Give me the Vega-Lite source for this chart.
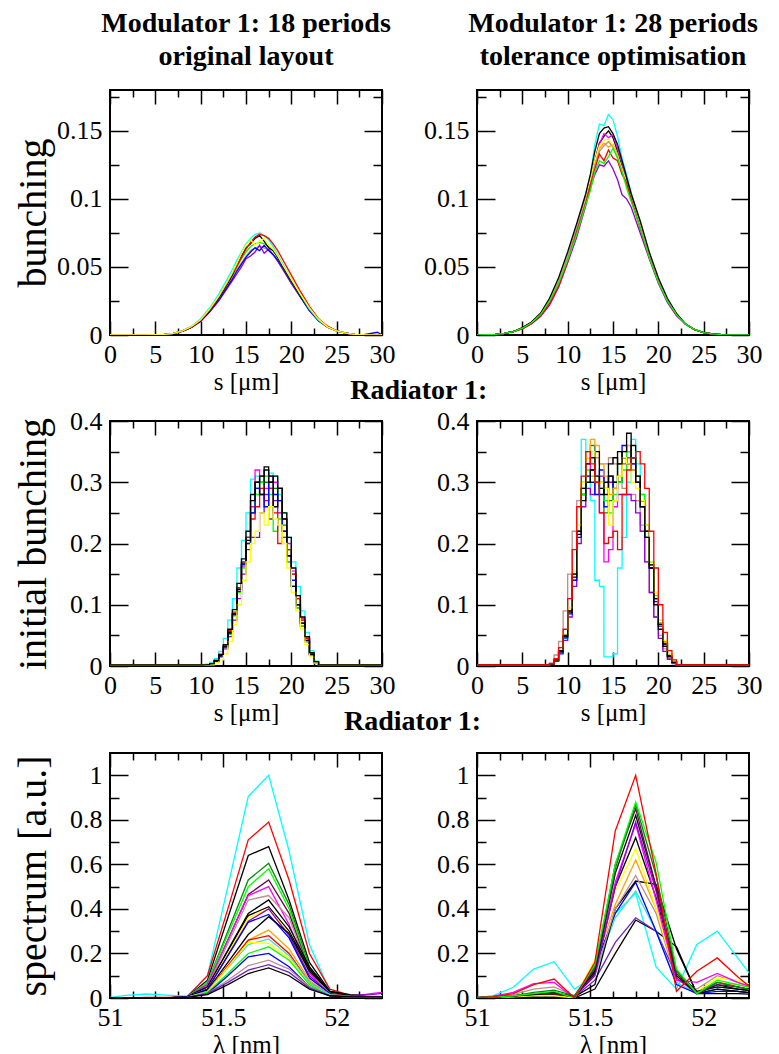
{
"background":"white",
"padding":{"left":12,"top":9,"right":5,"bottom":5},
"config":{
"view":{"stroke":"black","strokeWidth":2},
"axis":{"domain":false,"grid":false,"labelFont":"Liberation Serif","labelFontSize":26,"labelColor":"#000","titleFont":"Liberation Serif","titleFontWeight":"normal","titleColor":"#000","tickColor":"#000","tickWidth":1.5,"labelFlush":false,"labelOverlap":false},
"title":{"font":"Liberation Serif","fontSize":28,"fontWeight":"bold","color":"#000"}
},
"spacing":-18,
"vconcat":[
{"spacing":26,"hconcat":[
{"width":272,"height":245,
"title":{"text":["Modulator 1: 18 periods","original layout"],"anchor":"middle","frame":"group","offset":18,"lineHeight":33},
"resolve":{"axis":{"x":"independent","y":"independent"}},
"layer":[
{"data":{"values":[
{"x":0,"c":0,"r":0,"k":0,"y":0,"g":0,"b":0,"v":0,"br":0},
{"x":4,"c":0.0001,"r":0.0001,"k":0.0001,"y":0.0001,"g":0.0001,"b":0.0001,"v":0.0001,"br":0.0001},
{"x":6,"c":0.0005,"r":0.0005,"k":0.0005,"y":0.0005,"g":0.0005,"b":0.0005,"v":0.0005,"br":0.0005},
{"x":7,"c":0.0012,"r":0.0012,"k":0.0012,"y":0.0012,"g":0.0012,"b":0.0012,"v":0.0012,"br":0.0012},
{"x":8,"c":0.0032,"r":0.003,"k":0.0028,"y":0.003,"g":0.003,"b":0.0028,"v":0.0027,"br":0.0029},
{"x":9,"c":0.0065,"r":0.006,"k":0.0058,"y":0.0062,"g":0.006,"b":0.0057,"v":0.0055,"br":0.0058},
{"x":10,"c":0.012,"r":0.011,"k":0.0105,"y":0.0112,"g":0.011,"b":0.0105,"v":0.01,"br":0.0105},
{"x":11,"c":0.02,"r":0.0185,"k":0.0178,"y":0.019,"g":0.018,"b":0.0172,"v":0.017,"br":0.0175},
{"x":12,"c":0.03,"r":0.028,"k":0.027,"y":0.0285,"g":0.027,"b":0.026,"v":0.025,"br":0.026},
{"x":13,"c":0.042,"r":0.039,"k":0.038,"y":0.04,"g":0.038,"b":0.036,"v":0.035,"br":0.036},
{"x":13.5,"c":0.048,"r":0.045,"k":0.044,"y":0.046,"g":0.044,"b":0.041,"v":0.04,"br":0.042},
{"x":14,"c":0.055,"r":0.051,"k":0.051,"y":0.053,"g":0.05,"b":0.047,"v":0.045,"br":0.048},
{"x":14.5,"c":0.061,"r":0.057,"k":0.058,"y":0.06,"g":0.056,"b":0.052,"v":0.05,"br":0.053},
{"x":15,"c":0.067,"r":0.063,"k":0.064,"y":0.066,"g":0.061,"b":0.057,"v":0.056,"br":0.058},
{"x":15.5,"c":0.071,"r":0.068,"k":0.067,"y":0.07,"g":0.065,"b":0.061,"v":0.058,"br":0.062},
{"x":16,"c":0.074,"r":0.072,"k":0.071,"y":0.066,"g":0.067,"b":0.064,"v":0.061,"br":0.064},
{"x":16.5,"c":0.075,"r":0.074,"k":0.073,"y":0.069,"g":0.068,"b":0.062,"v":0.066,"br":0.065},
{"x":17,"c":0.073,"r":0.073,"k":0.069,"y":0.071,"g":0.067,"b":0.066,"v":0.06,"br":0.064},
{"x":17.5,"c":0.07,"r":0.071,"k":0.064,"y":0.066,"g":0.065,"b":0.062,"v":0.063,"br":0.062},
{"x":18,"c":0.065,"r":0.067,"k":0.062,"y":0.063,"g":0.062,"b":0.059,"v":0.059,"br":0.059},
{"x":18.5,"c":0.059,"r":0.062,"k":0.057,"y":0.058,"g":0.057,"b":0.055,"v":0.054,"br":0.055},
{"x":19,"c":0.053,"r":0.056,"k":0.051,"y":0.052,"g":0.051,"b":0.05,"v":0.049,"br":0.049},
{"x":20,"c":0.041,"r":0.044,"k":0.04,"y":0.041,"g":0.04,"b":0.039,"v":0.038,"br":0.038},
{"x":21,"c":0.03,"r":0.032,"k":0.029,"y":0.03,"g":0.029,"b":0.028,"v":0.028,"br":0.028},
{"x":22,"c":0.019,"r":0.021,"k":0.019,"y":0.02,"g":0.019,"b":0.018,"v":0.018,"br":0.018},
{"x":23,"c":0.011,"r":0.012,"k":0.011,"y":0.0115,"g":0.011,"b":0.0105,"v":0.0105,"br":0.0105},
{"x":24,"c":0.006,"r":0.0065,"k":0.006,"y":0.006,"g":0.006,"b":0.0058,"v":0.0058,"br":0.0058},
{"x":25,"c":0.003,"r":0.003,"k":0.003,"y":0.003,"g":0.003,"b":0.003,"v":0.003,"br":0.003},
{"x":26,"c":0.0013,"r":0.0013,"k":0.0013,"y":0.0013,"g":0.0013,"b":0.0013,"v":0.0013,"br":0.0013},
{"x":27,"c":0.0005,"r":0.0005,"k":0.0005,"y":0.0005,"g":0.0005,"b":0.0005,"v":0.0005,"br":0.0005},
{"x":28,"c":0.0002,"r":0.0002,"k":0.0002,"y":0.0002,"g":0.0002,"b":0.0002,"v":0.0002,"br":0.0002},
{"x":29.5,"c":0.0001,"r":0.0001,"k":0.0001,"y":0.0001,"g":0.0001,"b":0.002,"v":0.0001,"br":0.0001},
{"x":30,"c":0,"r":0,"k":0,"y":0,"g":0,"b":0,"v":0,"br":0}
]},
"transform":[{"fold":["br","v","b","g","k","c","r","y"],"as":["key","val"]}],
"mark":{"type":"line","strokeWidth":1.3,"clip":true},
"encoding":{
"x":{"field":"x","type":"quantitative","scale":{"domain":[0,30],"nice":false,"zero":false},"axis":{"orient":"bottom","values":[0,5,10,15,20,25,30],"tickSize":-14,"labelPadding":20,"format":"~g","title":"s [μm]","titleFontSize":25,"titlePadding":2}},
"y":{"field":"val","type":"quantitative","scale":{"domain":[0,0.18],"nice":false,"zero":false},"axis":{"orient":"left","values":[0,0.05,0.1,0.15],"tickSize":-18,"labelPadding":26,"format":"~g","title":"bunching","titleFontSize":40,"titlePadding":3}},
"color":{"field":"key","type":"nominal","legend":null,"scale":{"domain":["c","r","r2","k","k1","k2","k3","k4","k5","y","y2","g","g2","g4","b","b2","v","v2","v3","br","br2","m","mr","o","t"],"range":["#00ffff","#ff0000","#ff0000","#000000","#000000","#000000","#000000","#000000","#000000","#ffff00","#ffff00","#00ff00","#00ff00","#008b00","#0000ff","#0000ff","#9400d3","#7221bc","#7221bc","#bc8f8f","#bc8f8f","#ff00ff","#670748","#ffa500","#40e0d0"]}}
}},
{"data":{"values":[{"x":15,"val":0.05}]},"mark":{"type":"point","opacity":0},
"encoding":{"x":{"field":"x","type":"quantitative","axis":{"orient":"top","values":[0,5,10,15,20,25,30],"tickSize":-14,"labels":false,"title":null}},"y":{"field":"val","type":"quantitative","axis":{"orient":"right","values":[0,0.05,0.1,0.15],"tickSize":-18,"labels":false,"title":null}}}},
{"data":{"values":[{"x":15,"val":0.05}]},"mark":{"type":"point","opacity":0},
"encoding":{"x":{"field":"x","type":"quantitative","axis":{"orient":"bottom","values":[2.5,7.5,12.5,17.5,22.5,27.5],"tickSize":-7,"labels":false,"title":null}},"y":{"field":"val","type":"quantitative","axis":{"orient":"left","values":[0.025,0.075,0.125,0.175],"tickSize":-9,"labels":false,"title":null}}}},
{"data":{"values":[{"x":15,"val":0.05}]},"mark":{"type":"point","opacity":0},
"encoding":{"x":{"field":"x","type":"quantitative","axis":{"orient":"top","values":[2.5,7.5,12.5,17.5,22.5,27.5],"tickSize":-7,"labels":false,"title":null}},"y":{"field":"val","type":"quantitative","axis":{"orient":"right","values":[0.025,0.075,0.125,0.175],"tickSize":-9,"labels":false,"title":null}}}}
]},
{"width":272,"height":245,
"title":{"text":["Modulator 1: 28 periods","tolerance optimisation"],"anchor":"middle","frame":"group","offset":18,"lineHeight":33},
"resolve":{"axis":{"x":"independent","y":"independent"}},
"layer":[
{"data":{"values":[
{"x":0,"c":0,"k":0,"k2":0,"m":0,"r":0,"v":0,"o":0,"y":0,"br":0,"g":0},
{"x":2,"c":0.0005,"k":0.0005,"k2":0.0005,"m":0.0005,"r":0.0005,"v":0.0005,"o":0.0005,"y":0.0005,"br":0.0005,"g":0.0005},
{"x":3,"c":0.0012,"k":0.0012,"k2":0.0012,"m":0.0012,"r":0.0012,"v":0.0012,"o":0.0012,"y":0.0012,"br":0.0012,"g":0.0012},
{"x":4,"c":0.0025,"k":0.0025,"k2":0.0025,"m":0.0025,"r":0.0025,"v":0.0025,"o":0.0025,"y":0.0025,"br":0.0025,"g":0.0025},
{"x":5,"c":0.005,"k":0.0055,"k2":0.005,"m":0.005,"r":0.0045,"v":0.0045,"o":0.005,"y":0.005,"br":0.005,"g":0.005},
{"x":6,"c":0.009,"k":0.0095,"k2":0.009,"m":0.009,"r":0.0085,"v":0.0082,"o":0.009,"y":0.009,"br":0.009,"g":0.009},
{"x":7,"c":0.015,"k":0.016,"k2":0.015,"m":0.015,"r":0.014,"v":0.0135,"o":0.015,"y":0.015,"br":0.015,"g":0.015},
{"x":8,"c":0.025,"k":0.027,"k2":0.025,"m":0.025,"r":0.023,"v":0.022,"o":0.025,"y":0.025,"br":0.025,"g":0.025},
{"x":9,"c":0.039,"k":0.042,"k2":0.039,"m":0.039,"r":0.036,"v":0.035,"o":0.039,"y":0.039,"br":0.039,"g":0.038},
{"x":10,"c":0.058,"k":0.061,"k2":0.057,"m":0.057,"r":0.054,"v":0.053,"o":0.057,"y":0.057,"br":0.057,"g":0.055},
{"x":11,"c":0.08,"k":0.082,"k2":0.078,"m":0.078,"r":0.076,"v":0.072,"o":0.078,"y":0.078,"br":0.078,"g":0.074},
{"x":12,"c":0.103,"k":0.104,"k2":0.101,"m":0.1,"r":0.097,"v":0.095,"o":0.099,"y":0.1,"br":0.099,"g":0.096},
{"x":12.5,"c":0.117,"k":0.118,"k2":0.113,"m":0.112,"r":0.11,"v":0.108,"o":0.112,"y":0.114,"br":0.111,"g":0.106},
{"x":13,"c":0.14,"k":0.135,"k2":0.128,"m":0.126,"r":0.122,"v":0.118,"o":0.126,"y":0.128,"br":0.125,"g":0.12},
{"x":13.5,"c":0.155,"k":0.148,"k2":0.141,"m":0.14,"r":0.133,"v":0.125,"o":0.137,"y":0.139,"br":0.135,"g":0.128},
{"x":14,"c":0.154,"k":0.152,"k2":0.146,"m":0.148,"r":0.128,"v":0.124,"o":0.141,"y":0.143,"br":0.139,"g":0.126},
{"x":14.5,"c":0.162,"k":0.153,"k2":0.15,"m":0.145,"r":0.136,"v":0.128,"o":0.138,"y":0.144,"br":0.142,"g":0.131},
{"x":15,"c":0.158,"k":0.148,"k2":0.145,"m":0.147,"r":0.13,"v":0.122,"o":0.14,"y":0.139,"br":0.138,"g":0.137},
{"x":15.5,"c":0.146,"k":0.14,"k2":0.135,"m":0.137,"r":0.128,"v":0.114,"o":0.133,"y":0.131,"br":0.13,"g":0.13},
{"x":16,"c":0.13,"k":0.128,"k2":0.124,"m":0.126,"r":0.118,"v":0.103,"o":0.121,"y":0.122,"br":0.12,"g":0.12},
{"x":16.5,"c":0.118,"k":0.116,"k2":0.114,"m":0.112,"r":0.112,"v":0.1,"o":0.11,"y":0.112,"br":0.11,"g":0.108},
{"x":17,"c":0.105,"k":0.104,"k2":0.102,"m":0.1,"r":0.1,"v":0.094,"o":0.1,"y":0.101,"br":0.1,"g":0.098},
{"x":18,"c":0.082,"k":0.084,"k2":0.081,"m":0.08,"r":0.078,"v":0.075,"o":0.08,"y":0.08,"br":0.08,"g":0.079},
{"x":19,"c":0.059,"k":0.061,"k2":0.059,"m":0.058,"r":0.057,"v":0.056,"o":0.058,"y":0.058,"br":0.058,"g":0.057},
{"x":20,"c":0.04,"k":0.042,"k2":0.04,"m":0.04,"r":0.039,"v":0.038,"o":0.04,"y":0.04,"br":0.04,"g":0.039},
{"x":21,"c":0.025,"k":0.027,"k2":0.025,"m":0.025,"r":0.025,"v":0.024,"o":0.025,"y":0.025,"br":0.025,"g":0.025},
{"x":22,"c":0.015,"k":0.016,"k2":0.015,"m":0.015,"r":0.015,"v":0.014,"o":0.015,"y":0.015,"br":0.015,"g":0.015},
{"x":23,"c":0.008,"k":0.008,"k2":0.008,"m":0.008,"r":0.008,"v":0.008,"o":0.008,"y":0.008,"br":0.008,"g":0.008},
{"x":24,"c":0.004,"k":0.004,"k2":0.004,"m":0.004,"r":0.004,"v":0.004,"o":0.004,"y":0.004,"br":0.004,"g":0.004},
{"x":25,"c":0.0018,"k":0.0018,"k2":0.0018,"m":0.0018,"r":0.0018,"v":0.0018,"o":0.0018,"y":0.0018,"br":0.0018,"g":0.0018},
{"x":26,"c":0.0008,"k":0.0008,"k2":0.0008,"m":0.0008,"r":0.0008,"v":0.0008,"o":0.0008,"y":0.0008,"br":0.0008,"g":0.0008},
{"x":27,"c":0.0003,"k":0.0003,"k2":0.0003,"m":0.0003,"r":0.0003,"v":0.0003,"o":0.0003,"y":0.0003,"br":0.0003,"g":0.0003},
{"x":28,"c":0.0001,"k":0.0001,"k2":0.0001,"m":0.0001,"r":0.0001,"v":0.0001,"o":0.0001,"y":0.0001,"br":0.0001,"g":0.0001},
{"x":30,"c":0,"k":0,"k2":0,"m":0,"r":0,"v":0,"o":0,"y":0,"br":0,"g":0}
]},
"transform":[{"fold":["c","k2","m","o","y","br","v","r","k","g"],"as":["key","val"]}],
"mark":{"type":"line","strokeWidth":1.3,"clip":true},
"encoding":{
"x":{"field":"x","type":"quantitative","scale":{"domain":[0,30],"nice":false,"zero":false},"axis":{"orient":"bottom","values":[0,5,10,15,20,25,30],"tickSize":-14,"labelPadding":20,"format":"~g","title":"s [μm]","titleFontSize":25,"titlePadding":2}},
"y":{"field":"val","type":"quantitative","scale":{"domain":[0,0.18],"nice":false,"zero":false},"axis":{"orient":"left","values":[0,0.05,0.1,0.15],"tickSize":-18,"labelPadding":26,"format":"~g","title":null}},
"color":{"field":"key","type":"nominal","legend":null,"scale":{"domain":["c","r","r2","k","k1","k2","k3","k4","k5","y","y2","g","g2","g4","b","b2","v","v2","v3","br","br2","m","mr","o","t"],"range":["#00ffff","#ff0000","#ff0000","#000000","#000000","#000000","#000000","#000000","#000000","#ffff00","#ffff00","#00ff00","#00ff00","#008b00","#0000ff","#0000ff","#9400d3","#7221bc","#7221bc","#bc8f8f","#bc8f8f","#ff00ff","#670748","#ffa500","#40e0d0"]}}
}},
{"data":{"values":[{"x":15,"val":0.05}]},"mark":{"type":"point","opacity":0},
"encoding":{"x":{"field":"x","type":"quantitative","axis":{"orient":"top","values":[0,5,10,15,20,25,30],"tickSize":-14,"labels":false,"title":null}},"y":{"field":"val","type":"quantitative","axis":{"orient":"right","values":[0,0.05,0.1,0.15],"tickSize":-18,"labels":false,"title":null}}}},
{"data":{"values":[{"x":15,"val":0.05}]},"mark":{"type":"point","opacity":0},
"encoding":{"x":{"field":"x","type":"quantitative","axis":{"orient":"bottom","values":[2.5,7.5,12.5,17.5,22.5,27.5],"tickSize":-7,"labels":false,"title":null}},"y":{"field":"val","type":"quantitative","axis":{"orient":"left","values":[0.025,0.075,0.125,0.175],"tickSize":-9,"labels":false,"title":null}}}},
{"data":{"values":[{"x":15,"val":0.05}]},"mark":{"type":"point","opacity":0},
"encoding":{"x":{"field":"x","type":"quantitative","axis":{"orient":"top","values":[2.5,7.5,12.5,17.5,22.5,27.5],"tickSize":-7,"labels":false,"title":null}},"y":{"field":"val","type":"quantitative","axis":{"orient":"right","values":[0.025,0.075,0.125,0.175],"tickSize":-9,"labels":false,"title":null}}}}
]}
]},
{"spacing":39,"title":{"text":"Radiator 1:","anchor":"middle","offset":2,"dx":31},"hconcat":[
{"width":272,"height":245,
"resolve":{"axis":{"x":"independent","y":"independent"}},
"layer":[
{"data":{"values":[
{"x":0,"k":0.002,"k2":0.002,"c":0.002,"m":0.002,"g":0.002,"r":0.002,"b":0.002,"y":0.002,"v":0.002,"g4":0.002},
{"x":10,"k":0.002,"k2":0.002,"c":0.002,"m":0.002,"g":0.002,"r":0.002,"b":0.002,"y":0.002,"v":0.002,"g4":0.002},
{"x":10.5,"k":0.002,"k2":0.002,"c":0.003,"m":0.002,"g":0.002,"r":0.002,"b":0.002,"y":0.001,"v":0.002,"g4":0.002},
{"x":11,"k":0.004,"k2":0.003,"c":0.006,"m":0.003,"g":0.003,"r":0.004,"b":0.003,"y":0.002,"v":0.003,"g4":0.003},
{"x":11.5,"k":0.009,"k2":0.008,"c":0.012,"m":0.008,"g":0.008,"r":0.009,"b":0.008,"y":0.005,"v":0.007,"g4":0.008},
{"x":12,"k":0.019,"k2":0.017,"c":0.024,"m":0.016,"g":0.017,"r":0.019,"b":0.016,"y":0.01,"v":0.015,"g4":0.017},
{"x":12.5,"k":0.035,"k2":0.032,"c":0.045,"m":0.031,"g":0.03,"r":0.034,"b":0.031,"y":0.02,"v":0.028,"g4":0.032},
{"x":13,"k":0.06,"k2":0.055,"c":0.075,"m":0.054,"g":0.052,"r":0.058,"b":0.053,"y":0.04,"v":0.048,"g4":0.056},
{"x":13.5,"k":0.092,"k2":0.085,"c":0.11,"m":0.083,"g":0.082,"r":0.088,"b":0.084,"y":0.068,"v":0.075,"g4":0.086},
{"x":14,"k":0.135,"k2":0.125,"c":0.16,"m":0.122,"g":0.12,"r":0.128,"b":0.122,"y":0.1,"v":0.11,"g4":0.126},
{"x":14.5,"k":0.175,"k2":0.168,"c":0.205,"m":0.162,"g":0.16,"r":0.17,"b":0.165,"y":0.14,"v":0.15,"g4":0.166},
{"x":15,"k":0.22,"k2":0.205,"c":0.25,"m":0.21,"g":0.2,"r":0.21,"b":0.2,"y":0.17,"v":0.19,"g4":0.21},
{"x":15.5,"k":0.27,"k2":0.28,"c":0.305,"m":0.26,"g":0.25,"r":0.24,"b":0.25,"y":0.2,"v":0.21,"g4":0.25},
{"x":16,"k":0.3,"k2":0.3,"c":0.31,"m":0.32,"g":0.28,"r":0.26,"b":0.29,"y":0.22,"v":0.21,"g4":0.29},
{"x":16.5,"k":0.31,"k2":0.28,"c":0.3,"m":0.3,"g":0.3,"r":0.29,"b":0.28,"y":0.25,"v":0.25,"g4":0.31},
{"x":17,"k":0.325,"k2":0.32,"c":0.31,"m":0.29,"g":0.31,"r":0.27,"b":0.26,"y":0.23,"v":0.28,"g4":0.3},
{"x":17.5,"k":0.3,"k2":0.31,"c":0.315,"m":0.31,"g":0.28,"r":0.29,"b":0.3,"y":0.26,"v":0.24,"g4":0.29},
{"x":18,"k":0.31,"k2":0.26,"c":0.31,"m":0.3,"g":0.22,"r":0.25,"b":0.28,"y":0.24,"v":0.27,"g4":0.29},
{"x":18.5,"k":0.29,"k2":0.29,"c":0.28,"m":0.29,"g":0.24,"r":0.2,"b":0.27,"y":0.23,"v":0.25,"g4":0.27},
{"x":19,"k":0.25,"k2":0.24,"c":0.25,"m":0.24,"g":0.21,"r":0.21,"b":0.22,"y":0.2,"v":0.22,"g4":0.23},
{"x":19.5,"k":0.21,"k2":0.18,"c":0.21,"m":0.2,"g":0.17,"r":0.19,"b":0.18,"y":0.16,"v":0.17,"g4":0.19},
{"x":20,"k":0.16,"k2":0.13,"c":0.17,"m":0.155,"g":0.13,"r":0.15,"b":0.14,"y":0.12,"v":0.13,"g4":0.15},
{"x":20.5,"k":0.115,"k2":0.1,"c":0.13,"m":0.115,"g":0.095,"r":0.11,"b":0.1,"y":0.09,"v":0.095,"g4":0.11},
{"x":21,"k":0.08,"k2":0.07,"c":0.09,"m":0.078,"g":0.065,"r":0.075,"b":0.07,"y":0.06,"v":0.065,"g4":0.075},
{"x":21.5,"k":0.048,"k2":0.042,"c":0.055,"m":0.046,"g":0.04,"r":0.045,"b":0.042,"y":0.035,"v":0.04,"g4":0.045},
{"x":22,"k":0.022,"k2":0.019,"c":0.025,"m":0.021,"g":0.018,"r":0.02,"b":0.019,"y":0.015,"v":0.018,"g4":0.02},
{"x":22.5,"k":0.007,"k2":0.006,"c":0.008,"m":0.006,"g":0.005,"r":0.006,"b":0.006,"y":0.005,"v":0.005,"g4":0.006},
{"x":23,"k":0.002,"k2":0.002,"c":0.002,"m":0.002,"g":0.002,"r":0.002,"b":0.002,"y":0.002,"v":0.002,"g4":0.002},
{"x":30,"k":0.002,"k2":0.002,"c":0.002,"m":0.002,"g":0.002,"r":0.002,"b":0.002,"y":0.002,"v":0.002,"g4":0.002}
]},
"transform":[{"fold":["c","m","v","g4","g","r","b","k2","y","k"],"as":["key","val"]}],
"mark":{"type":"line","strokeWidth":1.3,"clip":true,"interpolate":"step-after"},
"encoding":{
"x":{"field":"x","type":"quantitative","scale":{"domain":[0,30],"nice":false,"zero":false},"axis":{"orient":"bottom","values":[0,5,10,15,20,25,30],"tickSize":-14,"labelPadding":20,"format":"~g","title":"s [μm]","titleFontSize":25,"titlePadding":2}},
"y":{"field":"val","type":"quantitative","scale":{"domain":[0,0.4],"nice":false,"zero":false},"axis":{"orient":"left","values":[0,0.1,0.2,0.3,0.4],"tickSize":-18,"labelPadding":26,"format":"~g","title":"initial bunching","titleFontSize":40,"titlePadding":16}},
"color":{"field":"key","type":"nominal","legend":null,"scale":{"domain":["c","r","r2","k","k1","k2","k3","k4","k5","y","y2","g","g2","g4","b","b2","v","v2","v3","br","br2","m","mr","o","t"],"range":["#00ffff","#ff0000","#ff0000","#000000","#000000","#000000","#000000","#000000","#000000","#ffff00","#ffff00","#00ff00","#00ff00","#008b00","#0000ff","#0000ff","#9400d3","#7221bc","#7221bc","#bc8f8f","#bc8f8f","#ff00ff","#670748","#ffa500","#40e0d0"]}}
}},
{"data":{"values":[{"x":15,"val":0.1}]},"mark":{"type":"point","opacity":0},
"encoding":{"x":{"field":"x","type":"quantitative","axis":{"orient":"top","values":[0,5,10,15,20,25,30],"tickSize":-14,"labels":false,"title":null}},"y":{"field":"val","type":"quantitative","axis":{"orient":"right","values":[0,0.1,0.2,0.3,0.4],"tickSize":-18,"labels":false,"title":null}}}},
{"data":{"values":[{"x":15,"val":0.1}]},"mark":{"type":"point","opacity":0},
"encoding":{"x":{"field":"x","type":"quantitative","axis":{"orient":"bottom","values":[2.5,7.5,12.5,17.5,22.5,27.5],"tickSize":-7,"labels":false,"title":null}},"y":{"field":"val","type":"quantitative","axis":{"orient":"left","values":[0.05,0.15,0.25,0.35],"tickSize":-9,"labels":false,"title":null}}}},
{"data":{"values":[{"x":15,"val":0.1}]},"mark":{"type":"point","opacity":0},
"encoding":{"x":{"field":"x","type":"quantitative","axis":{"orient":"top","values":[2.5,7.5,12.5,17.5,22.5,27.5],"tickSize":-7,"labels":false,"title":null}},"y":{"field":"val","type":"quantitative","axis":{"orient":"right","values":[0.05,0.15,0.25,0.35],"tickSize":-9,"labels":false,"title":null}}}}
]},
{"width":272,"height":245,
"resolve":{"axis":{"x":"independent","y":"independent"}},
"layer":[
{"data":{"values":[
{"x":0,"c":0.002,"r":0.002,"m":0.002,"k":0.002,"k2":0.002,"g":0.002,"g4":0.002,"b":0.002,"y":0.002,"o":0.002,"br":0.002,"v":0.002},
{"x":7.5,"c":0.002,"r":0.002,"m":0.002,"k":0.002,"k2":0.002,"g":0.002,"g4":0.002,"b":0.002,"y":0.002,"o":0.002,"br":0.002,"v":0.002},
{"x":8,"c":0.003,"r":0.004,"m":0.003,"k":0.003,"k2":0.003,"g":0.003,"g4":0.003,"b":0.003,"y":0.003,"o":0.003,"br":0.005,"v":0.003},
{"x":8.5,"c":0.008,"r":0.012,"m":0.01,"k":0.01,"k2":0.009,"g":0.01,"g4":0.01,"b":0.009,"y":0.01,"o":0.01,"br":0.018,"v":0.008},
{"x":9,"c":0.02,"r":0.03,"m":0.025,"k":0.025,"k2":0.023,"g":0.025,"g4":0.025,"b":0.023,"y":0.026,"o":0.025,"br":0.04,"v":0.02},
{"x":9.5,"c":0.045,"r":0.06,"m":0.05,"k":0.05,"k2":0.048,"g":0.05,"g4":0.05,"b":0.046,"y":0.052,"o":0.05,"br":0.09,"v":0.042},
{"x":10,"c":0.085,"r":0.11,"m":0.09,"k":0.09,"k2":0.088,"g":0.09,"g4":0.09,"b":0.085,"y":0.095,"o":0.09,"br":0.15,"v":0.08},
{"x":10.5,"c":0.14,"r":0.19,"m":0.15,"k":0.15,"k2":0.145,"g":0.15,"g4":0.15,"b":0.14,"y":0.155,"o":0.15,"br":0.22,"v":0.13},
{"x":11,"c":0.22,"r":0.26,"m":0.22,"k":0.22,"k2":0.215,"g":0.22,"g4":0.22,"b":0.21,"y":0.23,"o":0.22,"br":0.27,"v":0.2},
{"x":11.5,"c":0.37,"r":0.31,"m":0.28,"k":0.29,"k2":0.27,"g":0.28,"g4":0.29,"b":0.28,"y":0.3,"o":0.3,"br":0.3,"v":0.26},
{"x":12,"c":0.35,"r":0.35,"m":0.33,"k":0.33,"k2":0.3,"g":0.32,"g4":0.34,"b":0.31,"y":0.34,"o":0.35,"br":0.31,"v":0.29},
{"x":12.5,"c":0.27,"r":0.33,"m":0.32,"k":0.34,"k2":0.32,"g":0.31,"g4":0.36,"b":0.3,"y":0.35,"o":0.37,"br":0.32,"v":0.28},
{"x":13,"c":0.14,"r":0.3,"m":0.3,"k":0.31,"k2":0.35,"g":0.3,"g4":0.31,"b":0.28,"y":0.31,"o":0.36,"br":0.34,"v":0.3},
{"x":13.5,"c":0.13,"r":0.25,"m":0.25,"k":0.28,"k2":0.29,"g":0.29,"g4":0.3,"b":0.32,"y":0.3,"o":0.33,"br":0.33,"v":0.31},
{"x":14,"c":0.015,"r":0.2,"m":0.17,"k":0.3,"k2":0.28,"g":0.27,"g4":0.25,"b":0.26,"y":0.29,"o":0.31,"br":0.33,"v":0.29},
{"x":14.5,"c":0.015,"r":0.21,"m":0.19,"k":0.33,"k2":0.31,"g":0.25,"g4":0.27,"b":0.31,"y":0.23,"o":0.28,"br":0.34,"v":0.3},
{"x":15,"c":0.02,"r":0.22,"m":0.26,"k":0.34,"k2":0.3,"g":0.28,"g4":0.3,"b":0.29,"y":0.27,"o":0.29,"br":0.33,"v":0.27},
{"x":15.5,"c":0.16,"r":0.19,"m":0.3,"k":0.33,"k2":0.35,"g":0.3,"g4":0.33,"b":0.3,"y":0.31,"o":0.31,"br":0.3,"v":0.28},
{"x":16,"c":0.21,"r":0.28,"m":0.33,"k":0.35,"k2":0.34,"g":0.32,"g4":0.34,"b":0.36,"y":0.34,"o":0.35,"br":0.29,"v":0.28},
{"x":16.5,"c":0.3,"r":0.32,"m":0.34,"k":0.38,"k2":0.33,"g":0.35,"g4":0.33,"b":0.35,"y":0.33,"o":0.36,"br":0.28,"v":0.28},
{"x":17,"c":0.37,"r":0.34,"m":0.33,"k":0.34,"k2":0.36,"g":0.34,"g4":0.32,"b":0.33,"y":0.3,"o":0.32,"br":0.28,"v":0.27},
{"x":17.5,"c":0.33,"r":0.35,"m":0.31,"k":0.3,"k2":0.31,"g":0.31,"g4":0.3,"b":0.3,"y":0.29,"o":0.3,"br":0.27,"v":0.25},
{"x":18,"c":0.28,"r":0.33,"m":0.27,"k":0.26,"k2":0.27,"g":0.28,"g4":0.27,"b":0.26,"y":0.27,"o":0.27,"br":0.23,"v":0.22},
{"x":18.5,"c":0.23,"r":0.29,"m":0.22,"k":0.21,"k2":0.22,"g":0.23,"g4":0.22,"b":0.21,"y":0.23,"o":0.22,"br":0.17,"v":0.17},
{"x":19,"c":0.17,"r":0.22,"m":0.16,"k":0.16,"k2":0.165,"g":0.17,"g4":0.165,"b":0.16,"y":0.17,"o":0.165,"br":0.12,"v":0.12},
{"x":19.5,"c":0.12,"r":0.16,"m":0.11,"k":0.1,"k2":0.11,"g":0.115,"g4":0.11,"b":0.105,"y":0.12,"o":0.11,"br":0.08,"v":0.08},
{"x":20,"c":0.075,"r":0.1,"m":0.07,"k":0.06,"k2":0.068,"g":0.07,"g4":0.068,"b":0.065,"y":0.075,"o":0.07,"br":0.05,"v":0.045},
{"x":20.5,"c":0.04,"r":0.055,"m":0.038,"k":0.032,"k2":0.036,"g":0.04,"g4":0.038,"b":0.035,"y":0.042,"o":0.038,"br":0.028,"v":0.024},
{"x":21,"c":0.02,"r":0.025,"m":0.018,"k":0.015,"k2":0.017,"g":0.018,"g4":0.018,"b":0.016,"y":0.02,"o":0.018,"br":0.012,"v":0.011},
{"x":21.5,"c":0.008,"r":0.01,"m":0.007,"k":0.006,"k2":0.007,"g":0.007,"g4":0.007,"b":0.006,"y":0.008,"o":0.007,"br":0.005,"v":0.004},
{"x":22,"c":0.002,"r":0.002,"m":0.002,"k":0.002,"k2":0.002,"g":0.002,"g4":0.002,"b":0.002,"y":0.002,"o":0.002,"br":0.002,"v":0.002},
{"x":30,"c":0.002,"r":0.002,"m":0.002,"k":0.002,"k2":0.002,"g":0.002,"g4":0.002,"b":0.002,"y":0.002,"o":0.002,"br":0.002,"v":0.002}
]},
"transform":[{"fold":["c","br","v","m","g4","b","g","o","k2","y","k","r"],"as":["key","val"]}],
"mark":{"type":"line","strokeWidth":1.3,"clip":true,"interpolate":"step-after"},
"encoding":{
"x":{"field":"x","type":"quantitative","scale":{"domain":[0,30],"nice":false,"zero":false},"axis":{"orient":"bottom","values":[0,5,10,15,20,25,30],"tickSize":-14,"labelPadding":20,"format":"~g","title":"s [μm]","titleFontSize":25,"titlePadding":2}},
"y":{"field":"val","type":"quantitative","scale":{"domain":[0,0.4],"nice":false,"zero":false},"axis":{"orient":"left","values":[0,0.1,0.2,0.3,0.4],"tickSize":-18,"labelPadding":26,"format":"~g","title":null}},
"color":{"field":"key","type":"nominal","legend":null,"scale":{"domain":["c","r","r2","k","k1","k2","k3","k4","k5","y","y2","g","g2","g4","b","b2","v","v2","v3","br","br2","m","mr","o","t"],"range":["#00ffff","#ff0000","#ff0000","#000000","#000000","#000000","#000000","#000000","#000000","#ffff00","#ffff00","#00ff00","#00ff00","#008b00","#0000ff","#0000ff","#9400d3","#7221bc","#7221bc","#bc8f8f","#bc8f8f","#ff00ff","#670748","#ffa500","#40e0d0"]}}
}},
{"data":{"values":[{"x":15,"val":0.1}]},"mark":{"type":"point","opacity":0},
"encoding":{"x":{"field":"x","type":"quantitative","axis":{"orient":"top","values":[0,5,10,15,20,25,30],"tickSize":-14,"labels":false,"title":null}},"y":{"field":"val","type":"quantitative","axis":{"orient":"right","values":[0,0.1,0.2,0.3,0.4],"tickSize":-18,"labels":false,"title":null}}}},
{"data":{"values":[{"x":15,"val":0.1}]},"mark":{"type":"point","opacity":0},
"encoding":{"x":{"field":"x","type":"quantitative","axis":{"orient":"bottom","values":[2.5,7.5,12.5,17.5,22.5,27.5],"tickSize":-7,"labels":false,"title":null}},"y":{"field":"val","type":"quantitative","axis":{"orient":"left","values":[0.05,0.15,0.25,0.35],"tickSize":-9,"labels":false,"title":null}}}},
{"data":{"values":[{"x":15,"val":0.1}]},"mark":{"type":"point","opacity":0},
"encoding":{"x":{"field":"x","type":"quantitative","axis":{"orient":"top","values":[2.5,7.5,12.5,17.5,22.5,27.5],"tickSize":-7,"labels":false,"title":null}},"y":{"field":"val","type":"quantitative","axis":{"orient":"right","values":[0.05,0.15,0.25,0.35],"tickSize":-9,"labels":false,"title":null}}}}
]}
]},
{"spacing":51,"title":{"text":"Radiator 1:","anchor":"middle","offset":15,"dx":31},"hconcat":[
{"width":272,"height":245,
"resolve":{"axis":{"x":"independent","y":"independent"}},
"layer":[
{"data":{"values":[
{"x":50.98,"c":0,"r":0,"k1":0,"g4":0,"g":0,"mr":0,"m":0,"br":0,"k2":0,"k3":0,"y":0,"v":0,"b":0,"k4":0,"o":0,"r2":0,"t":0,"y2":0,"g2":0,"b2":0,"br2":0,"v2":0,"k5":0},
{"x":51.07,"c":0.012,"r":0,"k1":0,"g4":0,"g":0,"mr":0,"m":0,"br":0,"k2":0,"k3":0,"y":0,"v":0,"b":0,"k4":0,"o":0,"r2":0,"t":0,"y2":0,"g2":0,"b2":0,"br2":0,"v2":0,"k5":0},
{"x":51.16,"c":0.018,"r":0.003,"k1":0,"g4":0,"g":0,"mr":0,"m":0,"br":0,"k2":0,"k3":0,"y":0,"v":0,"b":0,"k4":0,"o":0,"r2":0,"t":0,"y2":0,"g2":0,"b2":0,"br2":0,"v2":0,"k5":0},
{"x":51.25,"c":0.013,"r":0.003,"k1":0,"g4":0,"g":0,"mr":0,"m":0,"br":0,"k2":0,"k3":0,"y":0,"v":0,"b":0,"k4":0,"o":0,"r2":0,"t":0,"y2":0,"g2":0,"b2":0,"br2":0,"v2":0,"k5":0},
{"x":51.34,"c":0.008,"r":0.005,"k1":0.005,"g4":0.005,"g":0.005,"mr":0.005,"m":0.005,"br":0.005,"k2":0.005,"k3":0.005,"y":0.005,"v":0.005,"b":0.005,"k4":0.005,"o":0.003,"r2":0.003,"t":0.003,"y2":0.003,"g2":0.003,"b2":0.003,"br2":0.003,"v2":0.003,"k5":0.003},
{"x":51.43,"c":0.1,"r":0.1,"k1":0.08,"g4":0.07,"g":0.07,"mr":0.06,"m":0.06,"br":0.05,"k2":0.05,"k3":0.05,"y":0.04,"v":0.04,"b":0.04,"k4":0.035,"o":0.03,"r2":0.03,"t":0.03,"y2":0.025,"g2":0.025,"b2":0.02,"br2":0.02,"v2":0.02,"k5":0.015},
{"x":51.52,"c":0.5,"r":0.4,"k1":0.36,"g4":0.3,"g":0.285,"mr":0.26,"m":0.26,"br":0.245,"k2":0.215,"k3":0.21,"y":0.2,"v":0.19,"b":0.19,"k4":0.16,"o":0.145,"r2":0.145,"t":0.135,"y2":0.14,"g2":0.11,"b2":0.1,"br2":0.08,"v2":0.07,"k5":0.06},
{"x":51.61,"c":0.905,"r":0.71,"k1":0.64,"g4":0.53,"g":0.5,"mr":0.465,"m":0.46,"br":0.44,"k2":0.38,"k3":0.37,"y":0.36,"v":0.345,"b":0.34,"k4":0.285,"o":0.26,"r2":0.26,"t":0.24,"y2":0.25,"g2":0.2,"b2":0.185,"br2":0.145,"v2":0.125,"k5":0.11},
{"x":51.7,"c":1.0,"r":0.79,"k1":0.68,"g4":0.605,"g":0.58,"mr":0.53,"m":0.5,"br":0.46,"k2":0.44,"k3":0.41,"y":0.4,"v":0.4,"b":0.375,"k4":0.365,"o":0.305,"r2":0.28,"t":0.265,"y2":0.245,"g2":0.23,"b2":0.2,"br2":0.17,"v2":0.15,"k5":0.135},
{"x":51.79,"c":0.66,"r":0.53,"k1":0.44,"g4":0.42,"g":0.4,"mr":0.38,"m":0.33,"br":0.36,"k2":0.32,"k3":0.3,"y":0.29,"v":0.28,"b":0.27,"k4":0.29,"o":0.22,"r2":0.2,"t":0.19,"y2":0.18,"g2":0.17,"b2":0.14,"br2":0.13,"v2":0.115,"k5":0.1},
{"x":51.88,"c":0.24,"r":0.2,"k1":0.16,"g4":0.14,"g":0.13,"mr":0.12,"m":0.11,"br":0.12,"k2":0.14,"k3":0.13,"y":0.1,"v":0.1,"b":0.09,"k4":0.12,"o":0.08,"r2":0.07,"t":0.07,"y2":0.06,"g2":0.06,"b2":0.05,"br2":0.05,"v2":0.045,"k5":0.04},
{"x":51.97,"c":0.03,"r":0.04,"k1":0.03,"g4":0.025,"g":0.02,"mr":0.02,"m":0.02,"br":0.02,"k2":0.03,"k3":0.03,"y":0.02,"v":0.02,"b":0.02,"k4":0.03,"o":0.015,"r2":0.015,"t":0.015,"y2":0.01,"g2":0.01,"b2":0.01,"br2":0.01,"v2":0.01,"k5":0.01},
{"x":52.06,"c":0.01,"r":0.012,"k1":0.01,"g4":0.01,"g":0.01,"mr":0.01,"m":0.005,"br":0.01,"k2":0.015,"k3":0.01,"y":0.01,"v":0.01,"b":0.01,"k4":0.01,"o":0.008,"r2":0.008,"t":0.005,"y2":0.005,"g2":0.005,"b2":0.005,"br2":0.005,"v2":0.005,"k5":0.005},
{"x":52.15,"c":0.005,"r":0.006,"k1":0.005,"g4":0.005,"g":0.005,"mr":0.008,"m":0.02,"br":0.005,"k2":0.01,"k3":0.005,"y":0.01,"v":0.015,"b":0.005,"k4":0.005,"o":0.005,"r2":0.005,"t":0.005,"y2":0.005,"g2":0.005,"b2":0.005,"br2":0.005,"v2":0.005,"k5":0.005},
{"x":52.24,"c":0.005,"r":0.006,"k1":0.005,"g4":0.005,"g":0.005,"mr":0.01,"m":0.03,"br":0.005,"k2":0.01,"k3":0.005,"y":0.01,"v":0.025,"b":0.005,"k4":0.005,"o":0.005,"r2":0.005,"t":0.005,"y2":0.005,"g2":0.005,"b2":0.005,"br2":0.005,"v2":0.005,"k5":0.005}
]},
"transform":[{"fold":["c","r","k1","g4","g","mr","m","br","k2","k3","y","v","b","k4","o","r2","t","y2","g2","b2","br2","v2","k5"],"as":["key","val"]}],
"mark":{"type":"line","strokeWidth":1.3,"clip":true},
"encoding":{
"x":{"field":"x","type":"quantitative","scale":{"domain":[51,52.2],"nice":false,"zero":false},"axis":{"orient":"bottom","values":[51,51.5,52],"tickSize":-14,"labelPadding":20,"format":"~g","title":"λ [nm]","titleFontSize":25,"titlePadding":2}},
"y":{"field":"val","type":"quantitative","scale":{"domain":[0,1.1],"nice":false,"zero":false},"axis":{"orient":"left","values":[0,0.2,0.4,0.6,0.8,1],"tickSize":-18,"labelPadding":26,"format":"~g","title":"spectrum [a.u.]","titleFontSize":40,"titlePadding":16}},
"color":{"field":"key","type":"nominal","legend":null,"scale":{"domain":["c","r","r2","k","k1","k2","k3","k4","k5","y","y2","g","g2","g4","b","b2","v","v2","v3","br","br2","m","mr","o","t"],"range":["#00ffff","#ff0000","#ff0000","#000000","#000000","#000000","#000000","#000000","#000000","#ffff00","#ffff00","#00ff00","#00ff00","#008b00","#0000ff","#0000ff","#9400d3","#7221bc","#7221bc","#bc8f8f","#bc8f8f","#ff00ff","#670748","#ffa500","#40e0d0"]}}
}},
{"data":{"values":[{"x":51.5,"val":0.5}]},"mark":{"type":"point","opacity":0},
"encoding":{"x":{"field":"x","type":"quantitative","axis":{"orient":"top","values":[51,51.5,52],"tickSize":-14,"labels":false,"title":null}},"y":{"field":"val","type":"quantitative","axis":{"orient":"right","values":[0,0.2,0.4,0.6,0.8,1],"tickSize":-18,"labels":false,"title":null}}}},
{"data":{"values":[{"x":51.5,"val":0.5}]},"mark":{"type":"point","opacity":0},
"encoding":{"x":{"field":"x","type":"quantitative","axis":{"orient":"bottom","values":[51.1,51.2,51.3,51.4,51.6,51.7,51.8,51.9,52.1],"tickSize":-7,"labels":false,"title":null}},"y":{"field":"val","type":"quantitative","axis":{"orient":"left","values":[0.1,0.3,0.5,0.7,0.9],"tickSize":-9,"labels":false,"title":null}}}},
{"data":{"values":[{"x":51.5,"val":0.5}]},"mark":{"type":"point","opacity":0},
"encoding":{"x":{"field":"x","type":"quantitative","axis":{"orient":"top","values":[51.1,51.2,51.3,51.4,51.6,51.7,51.8,51.9,52.1],"tickSize":-7,"labels":false,"title":null}},"y":{"field":"val","type":"quantitative","axis":{"orient":"right","values":[0.1,0.3,0.5,0.7,0.9],"tickSize":-9,"labels":false,"title":null}}}}
]},
{"width":272,"height":245,
"resolve":{"axis":{"x":"independent","y":"independent"}},
"layer":[
{"data":{"values":[
{"x":50.98,"r":0,"g":0,"g4":0,"mr":0,"k1":0,"v":0,"m":0,"k2":0,"y":0,"o":0,"br":0,"k4":0,"b":0,"t":0,"v3":0,"k5":0,"c":0},
{"x":51.07,"r":0.005,"g":0.005,"g4":0.005,"mr":0.005,"k1":0.005,"v":0.005,"m":0.008,"k2":0.003,"y":0.002,"o":0.003,"br":0.005,"k4":0.003,"b":0.003,"t":0.003,"v3":0.003,"k5":0.002,"c":0.01},
{"x":51.16,"r":0.02,"g":0.01,"g4":0.01,"mr":0.01,"k1":0.01,"v":0.01,"m":0.025,"k2":0.008,"y":0.005,"o":0.008,"br":0.015,"k4":0.005,"b":0.008,"t":0.008,"v3":0.008,"k5":0.005,"c":0.048},
{"x":51.25,"r":0.06,"g":0.02,"g4":0.025,"mr":0.02,"k1":0.018,"v":0.02,"m":0.065,"k2":0.015,"y":0.01,"o":0.015,"br":0.04,"k4":0.01,"b":0.015,"t":0.015,"v3":0.012,"k5":0.008,"c":0.13},
{"x":51.34,"r":0.085,"g":0.03,"g4":0.035,"mr":0.02,"k1":0.025,"v":0.025,"m":0.07,"k2":0.02,"y":0.01,"o":0.02,"br":0.05,"k4":0.015,"b":0.02,"t":0.02,"v3":0.015,"k5":0.01,"c":0.163},
{"x":51.43,"r":0,"g":0,"g4":0.01,"mr":0.005,"k1":0.005,"v":0.005,"m":0,"k2":0.005,"y":0,"o":0.005,"br":0.01,"k4":0.005,"b":0.01,"t":0.01,"v3":0.005,"k5":0,"c":0.04},
{"x":51.52,"r":0.16,"g":0.15,"g4":0.14,"mr":0.13,"k1":0.12,"v":0.1,"m":0.12,"k2":0.11,"y":0.17,"o":0.15,"br":0.1,"k4":0.06,"b":0.14,"t":0.12,"v3":0.08,"k5":0.04,"c":0.1},
{"x":51.61,"r":0.75,"g":0.6,"g4":0.58,"mr":0.6,"k1":0.56,"v":0.5,"m":0.52,"k2":0.5,"y":0.48,"o":0.42,"br":0.4,"k4":0.4,"b":0.38,"t":0.36,"v3":0.25,"k5":0.2,"c":0.38},
{"x":51.7,"r":1.0,"g":0.88,"g4":0.87,"mr":0.85,"k1":0.82,"v":0.79,"m":0.78,"k2":0.72,"y":0.67,"o":0.62,"br":0.55,"k4":0.525,"b":0.52,"t":0.48,"v3":0.36,"k5":0.35,"c":0.47},
{"x":51.79,"r":0.56,"g":0.61,"g4":0.55,"mr":0.5,"k1":0.5,"v":0.48,"m":0.44,"k2":0.45,"y":0.4,"o":0.4,"br":0.38,"k4":0.51,"b":0.3,"t":0.3,"v3":0.3,"k5":0.3,"c":0.14},
{"x":51.88,"r":0.03,"g":0.13,"g4":0.12,"mr":0.11,"k1":0.1,"v":0.09,"m":0.08,"k2":0.12,"y":0.09,"o":0.1,"br":0.08,"k4":0.22,"b":0.06,"t":0.07,"v3":0.1,"k5":0.23,"c":0.04},
{"x":51.97,"r":0.12,"g":0.02,"g4":0.02,"mr":0.02,"k1":0.02,"v":0.02,"m":0.07,"k2":0.03,"y":0.03,"o":0.03,"br":0.04,"k4":0.02,"b":0.02,"t":0.02,"v3":0.02,"k5":0.02,"c":0.24},
{"x":52.06,"r":0.18,"g":0.08,"g4":0.07,"mr":0.06,"k1":0.06,"v":0.07,"m":0.11,"k2":0.05,"y":0.09,"o":0.07,"br":0.1,"k4":0.04,"b":0.03,"t":0.05,"v3":0.04,"k5":0.02,"c":0.3},
{"x":52.15,"r":0.095,"g":0.06,"g4":0.05,"mr":0.05,"k1":0.04,"v":0.05,"m":0.07,"k2":0.04,"y":0.08,"o":0.06,"br":0.07,"k4":0.03,"b":0.03,"t":0.04,"v3":0.03,"k5":0.02,"c":0.18},
{"x":52.24,"r":0.02,"g":0.04,"g4":0.03,"mr":0.03,"k1":0.03,"v":0.03,"m":0.04,"k2":0.03,"y":0.05,"o":0.04,"br":0.04,"k4":0.02,"b":0.02,"t":0.03,"v3":0.02,"k5":0.015,"c":0.06}
]},
"transform":[{"fold":["c","k5","v3","t","b","k4","br","o","y","k2","m","v","k1","mr","g4","g","r"],"as":["key","val"]}],
"mark":{"type":"line","strokeWidth":1.3,"clip":true},
"encoding":{
"x":{"field":"x","type":"quantitative","scale":{"domain":[51,52.2],"nice":false,"zero":false},"axis":{"orient":"bottom","values":[51,51.5,52],"tickSize":-14,"labelPadding":20,"format":"~g","title":"λ [nm]","titleFontSize":25,"titlePadding":2}},
"y":{"field":"val","type":"quantitative","scale":{"domain":[0,1.1],"nice":false,"zero":false},"axis":{"orient":"left","values":[0,0.2,0.4,0.6,0.8,1],"tickSize":-18,"labelPadding":26,"format":"~g","title":null}},
"color":{"field":"key","type":"nominal","legend":null,"scale":{"domain":["c","r","r2","k","k1","k2","k3","k4","k5","y","y2","g","g2","g4","b","b2","v","v2","v3","br","br2","m","mr","o","t"],"range":["#00ffff","#ff0000","#ff0000","#000000","#000000","#000000","#000000","#000000","#000000","#ffff00","#ffff00","#00ff00","#00ff00","#008b00","#0000ff","#0000ff","#9400d3","#7221bc","#7221bc","#bc8f8f","#bc8f8f","#ff00ff","#670748","#ffa500","#40e0d0"]}}
}},
{"data":{"values":[{"x":51.5,"val":0.5}]},"mark":{"type":"point","opacity":0},
"encoding":{"x":{"field":"x","type":"quantitative","axis":{"orient":"top","values":[51,51.5,52],"tickSize":-14,"labels":false,"title":null}},"y":{"field":"val","type":"quantitative","axis":{"orient":"right","values":[0,0.2,0.4,0.6,0.8,1],"tickSize":-18,"labels":false,"title":null}}}},
{"data":{"values":[{"x":51.5,"val":0.5}]},"mark":{"type":"point","opacity":0},
"encoding":{"x":{"field":"x","type":"quantitative","axis":{"orient":"bottom","values":[51.1,51.2,51.3,51.4,51.6,51.7,51.8,51.9,52.1],"tickSize":-7,"labels":false,"title":null}},"y":{"field":"val","type":"quantitative","axis":{"orient":"left","values":[0.1,0.3,0.5,0.7,0.9],"tickSize":-9,"labels":false,"title":null}}}},
{"data":{"values":[{"x":51.5,"val":0.5}]},"mark":{"type":"point","opacity":0},
"encoding":{"x":{"field":"x","type":"quantitative","axis":{"orient":"top","values":[51.1,51.2,51.3,51.4,51.6,51.7,51.8,51.9,52.1],"tickSize":-7,"labels":false,"title":null}},"y":{"field":"val","type":"quantitative","axis":{"orient":"right","values":[0.1,0.3,0.5,0.7,0.9],"tickSize":-9,"labels":false,"title":null}}}}
]}
]}
]
}
